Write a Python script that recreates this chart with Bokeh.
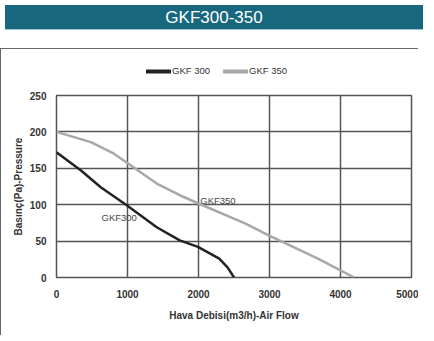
from bokeh.plotting import figure
from bokeh.models import ColumnDataSource, Legend, LegendItem, Div, Range1d, FixedTicker
from bokeh.layouts import column
from bokeh.core.properties import value
from bokeh.embed import file_html
from bokeh.resources import INLINE

# ---- data ----
title_text = "GKF300-350"
x_ticks = [0, 1000, 2000, 3000, 4000, 5000]
y_ticks = [0, 50, 100, 150, 200, 250]

gkf300_flow = [0, 345, 623, 994, 1412, 1736, 1992, 2292, 2409, 2501]
gkf300_pressure = [172, 147, 124, 99, 69, 51, 42, 26, 14, 0]

gkf350_flow = [0, 484, 809, 1018, 1412, 1736, 1992, 2663, 2988, 3683, 4193]
gkf350_pressure = [200, 186, 170, 156, 129, 113, 102, 74, 58, 26, 0]

series_names = ["GKF 300", "GKF 350"]
label_names = ["GKF300", "GKF350"]
label_flow = [883, 2274]
label_pressure = [82, 106]

FONT = "Liberation Sans"
C300 = "#222222"
C350 = "#a8a8a8"
BOX = "1.5px solid #666"

header = Div(text=title_text, width=418, height=25,
             styles={"background-color": "#17677f", "color": "white",
                     "font-size": "17px", "font-family": "Liberation Sans, Arial, sans-serif",
                     "text-align": "center", "line-height": "25px",
                     "border-bottom": "1px solid #9cc6d6"})

# ---- legend strip (its own small figure, lines kept out of view) ----
lg = figure(width=418, height=42, output_backend="svg", toolbar_location=None,
            x_range=Range1d(-3000, -2000), y_range=Range1d(0, 250),
            min_border=0, outline_line_color=None)
lg.axis.visible = False
lg.grid.visible = False
lg.styles = {"border-left": BOX, "border-top": BOX}
l300 = lg.line(gkf300_flow, gkf300_pressure, line_color=C300, line_width=4, line_cap="round")
l350 = lg.line(gkf350_flow, gkf350_pressure, line_color=C350, line_width=4, line_cap="round")
legend = Legend(items=[LegendItem(label=series_names[0], renderers=[l300]),
                       LegendItem(label=series_names[1], renderers=[l350])],
                orientation="horizontal", location=(90, 15),
                label_text_font=FONT, label_text_font_size="9.5px", label_text_color="#333333",
                glyph_width=25, glyph_height=8, label_standoff=1, spacing=13,
                label_height=10, padding=2, margin=0,
                border_line_color=None, background_fill_alpha=0)
lg.add_layout(legend, "center")

# ---- main chart ----
p = figure(width=418, height=245, output_backend="svg", toolbar_location=None,
           x_range=Range1d(0, 5000), y_range=Range1d(0, 250),
           min_border_left=55, min_border_right=8, min_border_top=5, min_border_bottom=58)
p.styles = {"border-left": BOX}

p.line(gkf300_flow, gkf300_pressure, line_color=C300, line_width=2.5)
p.line(gkf350_flow, gkf350_pressure, line_color=C350, line_width=2.5)

src = ColumnDataSource(dict(x=label_flow, y=label_pressure, t=label_names))
p.text(x="x", y="y", text="t", source=src, text_font=value(FONT), text_font_size="9.5px",
       text_color="#444444", text_align="center", text_baseline="middle")

for ax in (p.xaxis, p.yaxis):
    ax.axis_line_color = None
    ax.major_tick_line_color = None
    ax.minor_tick_line_color = None
    ax.major_label_text_font = FONT
    ax.major_label_text_font_size = "10px"
    ax.major_label_text_color = "#333333"
    ax.major_label_text_font_style = "bold"
    ax.axis_label_text_font = FONT
    ax.axis_label_text_font_size = "10px"
    ax.axis_label_text_font_style = "bold"
    ax.axis_label_text_color = "#333333"

p.xaxis.ticker = FixedTicker(ticks=x_ticks)
p.yaxis.ticker = FixedTicker(ticks=y_ticks)
p.xaxis.major_label_standoff = 6
p.yaxis.major_label_standoff = 4
p.xaxis.axis_label = "Hava Debisi(m3/h)-Air Flow"
p.yaxis.axis_label = "Basınç(Pa)-Pressure"
p.xaxis.axis_label_standoff = 9
p.yaxis.axis_label_standoff = 3

p.xgrid.ticker = FixedTicker(ticks=x_ticks)
p.ygrid.ticker = FixedTicker(ticks=y_ticks)
for g in (p.xgrid, p.ygrid):
    g.grid_line_color = "#555555"
    g.grid_line_width = 1.5
    g.grid_line_alpha = 1.0
p.outline_line_color = "#555555"
p.outline_line_width = 1.5

layout = column(header, column(lg, p, spacing=0), spacing=13)

open("out.html", "w").write(file_html(layout, INLINE))
